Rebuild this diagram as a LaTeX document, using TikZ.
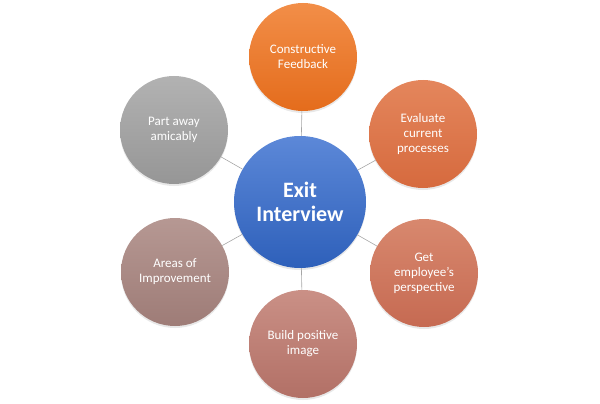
\documentclass[tikz,border=0pt]{standalone}
\usepackage{fontspec}
\setmainfont{Carlito}
\usetikzlibrary{shadows,backgrounds}
\definecolor{fbA}{RGB}{242,142,72}\definecolor{fbB}{RGB}{228,108,28}
\definecolor{evA}{RGB}{228,134,92}\definecolor{evB}{RGB}{214,106,62}
\definecolor{geA}{RGB}{216,136,110}\definecolor{geB}{RGB}{198,106,82}
\definecolor{bpA}{RGB}{202,144,134}\definecolor{bpB}{RGB}{178,112,102}
\definecolor{aiA}{RGB}{182,152,147}\definecolor{aiB}{RGB}{158,124,119}
\definecolor{paA}{RGB}{178,178,178}\definecolor{paB}{RGB}{150,150,150}
\definecolor{eiA}{RGB}{92,136,216}\definecolor{eiB}{RGB}{46,96,186}
\tikzset{bub/.style={circle,minimum size=108pt,inner sep=0pt,align=center,text=white,
  font=\fontsize{13}{15}\selectfont,
  drop shadow={opacity=0.18,shadow xshift=0pt,shadow yshift=-2pt}},
  hub/.style={bub,minimum size=132pt,font=\bfseries\fontsize{22}{24}\selectfont},
  spoke/.style={draw=black!35,line width=0.6pt}}
\begin{document}
\begin{tikzpicture}[x=1pt,y=-1pt]
\useasboundingbox (0,0) rectangle (600,404);
\coordinate(E)at(300,202);\coordinate(F)at(303,57);\coordinate(V)at(423,134);
\coordinate(G)at(424,273);\coordinate(B)at(303,344);\coordinate(A)at(175,272);
\coordinate(P)at(174,130);
\node[hub,top color=eiA,bottom color=eiB](ei)at(E){Exit\\Interview};
\node[bub,top color=fbA,bottom color=fbB](fb)at(F){Constructive\\Feedback};
\node[bub,top color=evA,bottom color=evB](ev)at(V){Evaluate\\current\\processes};
\node[bub,top color=geA,bottom color=geB](ge)at(G){Get\\employee’s\\perspective};
\node[bub,top color=bpA,bottom color=bpB](bp)at(B){Build positive\\image};
\node[bub,top color=aiA,bottom color=aiB](ai)at(A){Areas of\\Improvement};
\node[bub,top color=paA,bottom color=paB](pa)at(P){Part away\\amicably};
\begin{scope}[on background layer]
\draw[spoke](ei)--(fb)(ei)--(ev)(ei)--(ge)(ei)--(bp)(ei)--(ai)(ei)--(pa);
\end{scope}
\end{tikzpicture}
\end{document}
